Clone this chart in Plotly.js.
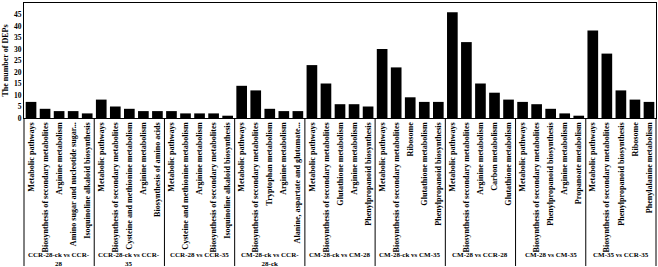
<!DOCTYPE html>
<html>
<head>
<meta charset="utf-8">
<script src="https://cdn.plot.ly/plotly-3.0.1.min.js"></script>
<style>html,body{margin:0;padding:0;background:#fff;}#chart{width:658px;height:267px;}</style>
</head>
<body>
<div id="chart"></div>
<script>
var groups = [
  "CCR-28-ck vs CCR-<br>28",
  "CCR-28-ck vs CCR-<br>35",
  "CCR-28 vs CCR-35",
  "CM-28-ck vs CCR-<br>28-ck",
  "CM-28-ck vs CM-28",
  "CM-28-ck vs CM-35",
  "CM-28 vs CCR-28",
  "CM-28 vs CM-35",
  "CM-35 vs CCR-35"
];
var pathways = [
  ["Metabolic pathways","Biosynthesis of secondary metabolites","Arginine metabolism","Amino sugar and nucleotide sugar...","Isoquinoline alkaloid biosynthesis"],
  ["Metabolic pathways","Biosynthesis of secondary metabolites","Cysteine and methionine metabolism","Arginine metabolism","Biosynthesis of amino acids"],
  ["Metabolic pathways","Cysteine and methionine metabolism","Arginine metabolism","Biosynthesis of secondary metabolites","Isoquinoline alkaloid biosynthesis"],
  ["Metabolic pathways","Biosynthesis of secondary metabolites","Tryptophan metabolism","Arginine metabolism","Alanine, aspartate and glutamate..."],
  ["Metabolic pathways","Biosynthesis of secondary metabolites","Glutathione metabolism","Arginine metabolism","Phenylpropanoid biosynthesis"],
  ["Metabolic pathways","Biosynthesis of secondary metabolites","Ribosome","Glutathione metabolism","Phenylpropanoid biosynthesis"],
  ["Metabolic pathways","Biosynthesis of secondary metabolites","Arginine metabolism","Carbon metabolism","Glutathione metabolism"],
  ["Metabolic pathways","Biosynthesis of secondary metabolites","Phenylpropanoid biosynthesis","Arginine metabolism","Propanoate metabolism"],
  ["Metabolic pathways","Biosynthesis of secondary metabolites","Phenylpropanoid biosynthesis","Ribosome","Phenylalanine metabolism"]
];
var counts = [
  [7, 4, 3, 3, 2],
  [8, 5, 4, 3, 3],
  [3, 2, 2, 2, 1],
  [14, 12, 4, 3, 3],
  [23, 15, 6, 6, 5],
  [30, 22, 9, 7, 7],
  [46, 33, 15, 11, 8],
  [7, 6, 4, 2, 1],
  [38, 28, 12, 8, 7]
];

var font = "Liberation Serif";
var PLOT_TOP = 3, PLOT_BOTTOM = 118, H = 267;
function paperY(px) { return (PLOT_BOTTOM - px) / (PLOT_BOTTOM - PLOT_TOP); }

// flatten; zero-width suffix keeps repeated pathway names as separate categories
var xc = [], yv = [], annotations = [], shapes = [];
var pos = 0;
for (var i = 0; i < groups.length; i++) {
  var suffix = new Array(i + 1).join('\u200B');
  var start = pos;
  for (var j = 0; j < pathways[i].length; j++) {
    xc.push(pathways[i][j] + suffix);
    yv.push(counts[i][j]);
    pos++;
  }
  var mid = (start + pos - 1) / 2;
  annotations.push({
    text: groups[i], xref: 'x', yref: 'paper', x: mid, y: paperY(249),
    xanchor: 'center', yanchor: 'top', showarrow: false,
    font: {family: font, size: 7, color: '#000', weight: 'bold'}
  });
  if (i < groups.length - 1) {
    shapes.push({type: 'line', xref: 'x', yref: 'paper', x0: pos - 0.5, x1: pos - 0.5,
      y0: 0, y1: paperY(266), line: {color: '#000', width: 1}});
  }
}
shapes.push({type: 'line', xref: 'paper', yref: 'paper', x0: 0, x1: 0, y0: 0, y1: paperY(266), line: {color: '#000', width: 1}});
shapes.push({type: 'line', xref: 'paper', yref: 'paper', x0: 1, x1: 1, y0: 0, y1: paperY(266), line: {color: '#000', width: 1}});

var data = [{
  type: 'bar',
  x: xc,
  y: yv,
  marker: {color: '#000000'},
  hoverinfo: 'y'
}];
var layout = {
  width: 658, height: H,
  margin: {l: 24, r: 2, t: PLOT_TOP, b: H - PLOT_BOTTOM, pad: 0},
  paper_bgcolor: '#ffffff', plot_bgcolor: '#ffffff',
  bargap: 0.24,
  showlegend: false,
  font: {family: font, color: '#000', size: 8},
  xaxis: {
    type: 'category',
    tickangle: -90,
    tickfont: {family: font, size: 8.1, color: '#000', weight: 'bold'},
    showline: true, linecolor: '#000', linewidth: 1, mirror: true,
    showgrid: false, ticks: '', automargin: false
  },
  yaxis: {
    range: [0, 50], dtick: 5,
    showline: true, linecolor: '#000', linewidth: 1, mirror: true,
    showgrid: false, zeroline: false, ticks: '',
    tickfont: {family: font, size: 7.5, color: '#000', weight: 'bold'},
    title: {text: 'The number of DEPs', font: {family: font, size: 8, color: '#000', weight: 'bold'}, standoff: 4},
    automargin: false
  },
  annotations: annotations,
  shapes: shapes
};
Plotly.newPlot('chart', data, layout, {displayModeBar: false, staticPlot: true});
</script>
</body>
</html>
